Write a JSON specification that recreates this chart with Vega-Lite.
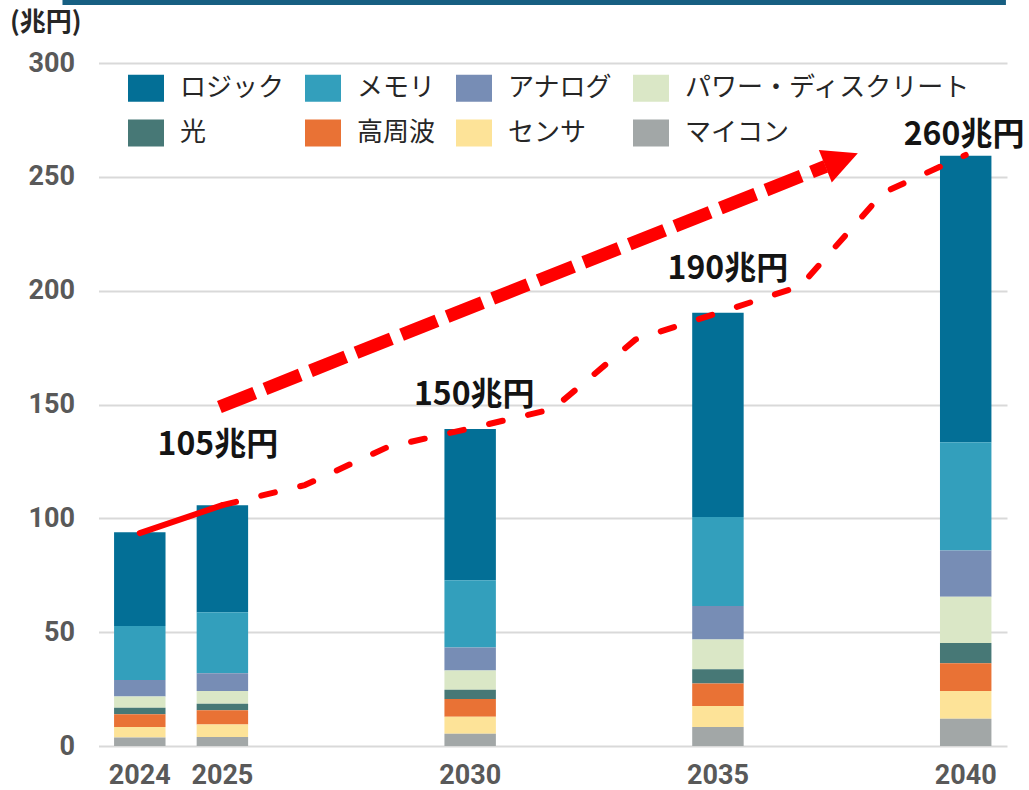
{
  "$schema": "https://vega.github.io/schema/vega-lite/v6.json",
  "width": 908.5,
  "height": 683,
  "autosize": {"type": "none"},
  "padding": {"left": 98.5, "top": 63, "right": 22, "bottom": 44},
  "background": "white",
  "config": {
    "view": {"stroke": null},
    "axis": {"labelFont": "Roboto", "labelFontWeight": "bold", "labelFontSize": 27, "labelColor": "#595959"}
  },
  "datasets": {
    "bars": [
      {"year": "2024", "type": "ロジック", "value": 41.2},
      {"year": "2024", "type": "メモリ", "value": 23.7},
      {"year": "2024", "type": "アナログ", "value": 7.3},
      {"year": "2024", "type": "パワー・ディスクリート", "value": 4.9},
      {"year": "2024", "type": "光", "value": 2.8},
      {"year": "2024", "type": "高周波", "value": 5.7},
      {"year": "2024", "type": "センサ", "value": 4.6},
      {"year": "2024", "type": "マイコン", "value": 3.7},
      {"year": "2025", "type": "ロジック", "value": 46.9},
      {"year": "2025", "type": "メモリ", "value": 26.9},
      {"year": "2025", "type": "アナログ", "value": 7.7},
      {"year": "2025", "type": "パワー・ディスクリート", "value": 5.6},
      {"year": "2025", "type": "光", "value": 2.9},
      {"year": "2025", "type": "高周波", "value": 6.3},
      {"year": "2025", "type": "センサ", "value": 5.4},
      {"year": "2025", "type": "マイコン", "value": 4.0},
      {"year": "2030", "type": "ロジック", "value": 66.4},
      {"year": "2030", "type": "メモリ", "value": 29.5},
      {"year": "2030", "type": "アナログ", "value": 10.1},
      {"year": "2030", "type": "パワー・ディスクリート", "value": 8.5},
      {"year": "2030", "type": "光", "value": 4.1},
      {"year": "2030", "type": "高周波", "value": 7.7},
      {"year": "2030", "type": "センサ", "value": 7.5},
      {"year": "2030", "type": "マイコン", "value": 5.4},
      {"year": "2035", "type": "ロジック", "value": 89.7},
      {"year": "2035", "type": "メモリ", "value": 39.1},
      {"year": "2035", "type": "アナログ", "value": 14.7},
      {"year": "2035", "type": "パワー・ディスクリート", "value": 13.1},
      {"year": "2035", "type": "光", "value": 6.3},
      {"year": "2035", "type": "高周波", "value": 9.8},
      {"year": "2035", "type": "センサ", "value": 9.3},
      {"year": "2035", "type": "マイコン", "value": 8.3},
      {"year": "2040", "type": "ロジック", "value": 125.9},
      {"year": "2040", "type": "メモリ", "value": 47.5},
      {"year": "2040", "type": "アナログ", "value": 20.3},
      {"year": "2040", "type": "パワー・ディスクリート", "value": 20.4},
      {"year": "2040", "type": "光", "value": 8.8},
      {"year": "2040", "type": "高周波", "value": 12.2},
      {"year": "2040", "type": "センサ", "value": 12.2},
      {"year": "2040", "type": "マイコン", "value": 12.0}
    ],
    "trend": [
      {"year": "2024", "total": 93.5, "seg": "solid"},
      {"year": "2025", "total": 105.8, "seg": "solid"},
      {"year": "2025", "total": 105.8, "seg": "dash"},
      {"year": "s2", "total": 114.6, "seg": "dash"},
      {"year": "s3", "total": 131.3, "seg": "dash"},
      {"year": "2030", "total": 139.5, "seg": "dash"},
      {"year": "s5", "total": 148.0, "seg": "dash"},
      {"year": "s6", "total": 178.5, "seg": "dash"},
      {"year": "2035", "total": 190.2, "seg": "dash"},
      {"year": "s8", "total": 202.0, "seg": "dash"},
      {"year": "s9", "total": 243.0, "seg": "dash"},
      {"year": "2040", "total": 259.6, "seg": "dash"}
    ],
    "arrow": [
      {"p": 0.964, "v": 148.9, "i": 0},
      {"p": 8.305, "v": 254.6, "i": 1}
    ],
    "head": [{"p": 8.497, "v": 257.5}],
    "labels": [
      {"p": 0.946, "v": 132.4, "text": "105兆円"},
      {"p": 4.05, "v": 154.2, "text": "150兆円"},
      {"p": 7.12, "v": 209.5, "text": "190兆円"},
      {"p": 9.98, "v": 268.4, "text": "260兆円"}
    ],
    "band": [{"p": -0.936, "p2": 10.487, "v": 325.5, "v2": 327.7}]
  },
  "layer": [
    {
      "layer": [
        {
          "data": {"name": "bars"},
          "transform": [
            {"calculate": "indexof(['ロジック','メモリ','アナログ','パワー・ディスクリート','光','高周波','センサ','マイコン'], datum.type)", "as": "rank"}
          ],
          "mark": {"type": "bar"},
          "encoding": {
            "x": {
              "field": "year", "type": "ordinal",
              "scale": {"domain": ["2024","2025","s2","s3","2030","s5","s6","2035","s8","s9","2040"], "paddingInner": 0.377, "paddingOuter": 0.1885},
              "axis": {"title": null, "domain": false, "ticks": false, "labelAngle": 0, "labelPadding": 16, "labelExpr": "length(datum.label) == 4 ? datum.label : ''"}
            },
            "y": {
              "field": "value", "type": "quantitative", "stack": "zero",
              "scale": {"domain": [0, 300], "nice": false},
              "axis": {
                "values": [0, 50, 100, 150, 200, 250, 300],
                "domain": false, "ticks": false, "labelPadding": 24,
                "grid": true, "gridColor": "#d9d9d9", "gridWidth": 2,
                "title": "(兆円)", "titleAngle": 0, "titleAlign": "left", "titleBaseline": "middle",
                "titleX": -89, "titleY": -41, "titleFont": "Noto Sans CJK JP", "titleFontSize": 26, "titleFontWeight": "bold", "titleColor": "#262626"
              }
            },
            "color": {
              "field": "type", "type": "nominal",
              "scale": {
                "domain": ["ロジック","メモリ","アナログ","パワー・ディスクリート","光","高周波","センサ","マイコン"],
                "range": ["#036f96","#339fbc","#778db5","#dae7c6","#477876","#e97235","#fde398","#a2a7a7"]
              },
              "legend": {
                "title": null, "orient": "none", "direction": "horizontal", "legendX": 29.5, "legendY": 7, "columns": 4,
                "symbolType": "M-1,-0.75H1V0.75H-1Z", "symbolSize": 1296, "symbolStrokeWidth": 0, "symbolOpacity": 1,
                "labelFont": "Noto Sans CJK JP", "labelFontSize": 26, "labelColor": "#262626", "labelOffset": 16, "labelLimit": 400,
                "columnPadding": 20, "rowPadding": 13, "padding": 0
              }
            },
            "order": {"field": "rank", "sort": "descending"}
          }
        },
        {
          "data": {"name": "trend"},
          "transform": [{"filter": "datum.seg == 'solid'"}],
          "mark": {"type": "line", "color": "#ff0000", "strokeWidth": 6, "strokeCap": "round"},
          "encoding": {
            "x": {"field": "year", "type": "ordinal"},
            "y": {"field": "total", "type": "quantitative"}
          }
        },
        {
          "data": {"name": "trend"},
          "transform": [{"filter": "datum.seg == 'dash'"}],
          "mark": {"type": "line", "color": "#ff0000", "strokeWidth": 6, "strokeCap": "round", "strokeJoin": "round", "strokeDash": [14, 26]},
          "encoding": {
            "x": {"field": "year", "type": "ordinal", "sort": null},
            "y": {"field": "total", "type": "quantitative"}
          }
        }
      ]
    },
    {
      "layer": [
        {
          "data": {"name": "band"},
          "mark": {"type": "rect", "color": "#175f82"},
          "encoding": {
            "x": {"field": "p", "type": "quantitative", "scale": {"domain": [-0.5, 10.5], "nice": false, "zero": false}, "axis": null},
            "x2": {"field": "p2"},
            "y": {"field": "v", "type": "quantitative"},
            "y2": {"field": "v2"}
          }
        },
        {
          "data": {"name": "arrow"},
          "mark": {"type": "line", "color": "#ff0000", "strokeWidth": 13, "strokeCap": "butt", "strokeDash": [38, 11]},
          "encoding": {
            "x": {"field": "p", "type": "quantitative"},
            "y": {"field": "v", "type": "quantitative"},
            "order": {"field": "i"}
          }
        },
        {
          "data": {"name": "head"},
          "mark": {"type": "point", "shape": "M1,0L-1,-1L-1,1Z", "size": 1225, "angle": 338.3, "filled": true, "opacity": 1, "color": "#ff0000", "strokeWidth": 0},
          "encoding": {
            "x": {"field": "p", "type": "quantitative"},
            "y": {"field": "v", "type": "quantitative"}
          }
        },
        {
          "data": {"name": "labels"},
          "mark": {"type": "text", "font": "Noto Sans CJK JP", "fontWeight": "bold", "fontSize": 32, "color": "#141414", "align": "center", "baseline": "middle"},
          "encoding": {
            "x": {"field": "p", "type": "quantitative"},
            "y": {"field": "v", "type": "quantitative"},
            "text": {"field": "text"}
          }
        }
      ]
    }
  ],
  "resolve": {"scale": {"x": "independent"}}
}
